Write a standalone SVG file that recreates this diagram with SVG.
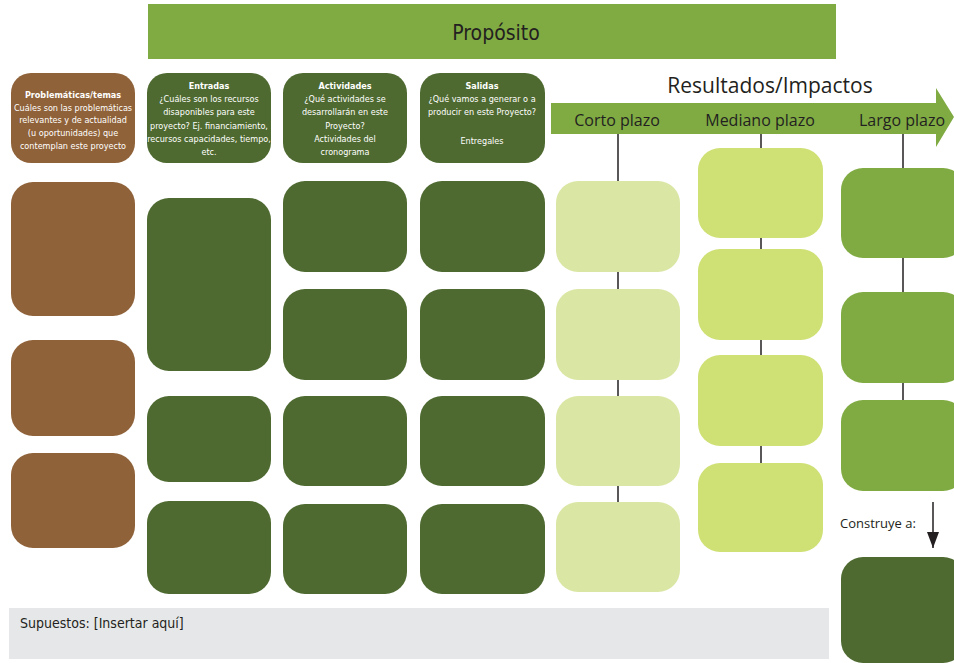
<svg xmlns="http://www.w3.org/2000/svg" width="954" height="663" viewBox="0 0 954 663">
<defs>
<style>
.brown{fill:#8f6239}
.dark{fill:#4e6a30}
.light{fill:#dae6a3}
.mid{fill:#cfe075}
.green{fill:#80ab43}
.hdr{font-family:"Liberation Sans Narrow","DejaVu Sans Condensed","Liberation Sans",sans-serif;font-size:9px;fill:#ffffff;text-anchor:middle}
.hdr .b{font-weight:bold}
.big{font-family:"Open Sans","Liberation Sans",sans-serif;fill:#231f20;text-anchor:middle}
.conn{stroke:#231f20;stroke-width:1.5;fill:none}
</style>
<marker id="ah" viewBox="0 0 16 12" refX="16" refY="6" markerWidth="16" markerHeight="12" markerUnits="userSpaceOnUse" orient="auto">
<path d="M0,0 L16,6 L0,12 Z" fill="#231f20"/>
</marker>
</defs>
<rect width="954" height="663" fill="#ffffff"/>

<g id="proposito">
<rect x="148" y="4" width="688" height="55" class="green"/>
<text x="496" y="40" class="big" style="font-family:'Liberation Sans Narrow','DejaVu Sans Condensed',sans-serif;font-size:21px">Propósito</text>
</g>

<g id="resultados-arrow">
<polygon points="551,103 936,103 936,88 954,117 936,147 936,134 551,134" class="green"/>
<text x="770" y="93" class="big" style="font-size:21px">Resultados/Impactos</text>
<text x="617" y="126" class="big" style="font-size:16px">Corto plazo</text>
<text x="760" y="126" class="big" style="font-size:16px">Mediano plazo</text>
<text x="902" y="126" class="big" style="font-size:16px">Largo plazo</text>
</g>

<g id="connectors">
<line x1="618" y1="134" x2="618" y2="590" class="conn"/>
<line x1="761" y1="134" x2="761" y2="550" class="conn"/>
<line x1="903" y1="134" x2="903" y2="490" class="conn"/>
<line x1="933" y1="502" x2="933" y2="548" class="conn" marker-end="url(#ah)"/>
</g>

<g id="hdr-problematicas">
<rect x="11" y="73" width="124" height="90" rx="20" class="brown"/>
<text class="hdr"><tspan x="73" y="98" class="b">Problemáticas/temas</tspan><tspan x="73" y="110.5">Cuáles son las problemáticas</tspan><tspan x="73" y="123">relevantes y de actualidad</tspan><tspan x="73" y="136">(u oportunidades) que</tspan><tspan x="73" y="148.5">contemplan este proyecto</tspan></text>
</g>
<g id="hdr-entradas">
<rect x="147" y="73" width="124" height="90" rx="20" class="dark"/>
<text class="hdr"><tspan x="209" y="88.5" class="b">Entradas</tspan><tspan x="209" y="102">¿Cuáles son los recursos</tspan><tspan x="209" y="115">disaponibles para este</tspan><tspan x="209" y="128.5">proyecto? Ej. financiamiento,</tspan><tspan x="209" y="142">recursos capacidades, tiempo,</tspan><tspan x="209" y="155">etc.</tspan></text>
</g>
<g id="hdr-actividades">
<rect x="283" y="73" width="124" height="90" rx="20" class="dark"/>
<text class="hdr"><tspan x="345" y="88.5" class="b">Actividades</tspan><tspan x="345" y="102">¿Qué actividades se</tspan><tspan x="345" y="115">desarrollarán en este</tspan><tspan x="345" y="128.5">Proyecto?</tspan><tspan x="345" y="142">Actividades del</tspan><tspan x="345" y="155">cronograma</tspan></text>
</g>
<g id="hdr-salidas">
<rect x="420" y="73" width="125" height="90" rx="20" class="dark"/>
<text class="hdr"><tspan x="482" y="88.5" class="b">Salidas</tspan><tspan x="482" y="102">¿Qué vamos a generar o a</tspan><tspan x="482" y="115">producir en este Proyecto?</tspan><tspan x="482" y="143.5">Entregales</tspan></text>
</g>

<g id="prob-1"><rect x="11" y="182" width="124" height="134" rx="22" class="brown"/></g>
<g id="prob-2"><rect x="11" y="340" width="124" height="96" rx="22" class="brown"/></g>
<g id="prob-3"><rect x="11" y="453" width="124" height="95" rx="22" class="brown"/></g>

<g id="ent-1"><rect x="147" y="198" width="124" height="173" rx="22" class="dark"/></g>
<g id="ent-2"><rect x="147" y="396" width="124" height="86" rx="22" class="dark"/></g>
<g id="ent-3"><rect x="147" y="501" width="124" height="93" rx="22" class="dark"/></g>

<g id="act-1"><rect x="283" y="181" width="124" height="91" rx="22" class="dark"/></g>
<g id="act-2"><rect x="283" y="289" width="124" height="91" rx="22" class="dark"/></g>
<g id="act-3"><rect x="283" y="396" width="124" height="90" rx="22" class="dark"/></g>
<g id="act-4"><rect x="283" y="504" width="124" height="90" rx="22" class="dark"/></g>

<g id="sal-1"><rect x="420" y="181" width="125" height="91" rx="22" class="dark"/></g>
<g id="sal-2"><rect x="420" y="289" width="125" height="91" rx="22" class="dark"/></g>
<g id="sal-3"><rect x="420" y="396" width="125" height="90" rx="22" class="dark"/></g>
<g id="sal-4"><rect x="420" y="504" width="125" height="90" rx="22" class="dark"/></g>

<g id="corto-1"><rect x="556" y="181" width="124" height="91" rx="22" class="light"/></g>
<g id="corto-2"><rect x="556" y="289" width="124" height="91" rx="22" class="light"/></g>
<g id="corto-3"><rect x="556" y="396" width="124" height="90" rx="22" class="light"/></g>
<g id="corto-4"><rect x="556" y="502" width="124" height="90" rx="22" class="light"/></g>

<g id="mediano-1"><rect x="698" y="148" width="125" height="90" rx="22" class="mid"/></g>
<g id="mediano-2"><rect x="698" y="249" width="125" height="91" rx="22" class="mid"/></g>
<g id="mediano-3"><rect x="698" y="355" width="125" height="91" rx="22" class="mid"/></g>
<g id="mediano-4"><rect x="698" y="463" width="125" height="89" rx="22" class="mid"/></g>

<g id="largo-1"><rect x="841" y="168" width="124" height="90" rx="22" class="green"/></g>
<g id="largo-2"><rect x="841" y="292" width="124" height="91" rx="22" class="green"/></g>
<g id="largo-3"><rect x="841" y="400" width="124" height="91" rx="22" class="green"/></g>

<g id="construye">
<text x="840" y="528" style="font-family:'Open Sans','Liberation Sans',sans-serif;font-size:13px;fill:#231f20">Construye a:</text>
</g>
<g id="largo-final"><rect x="841" y="557" width="124" height="106" rx="22" class="dark"/></g>

<g id="supuestos">
<rect x="9" y="608" width="820" height="51" fill="#e6e7e8"/>
<text x="20" y="628" style="font-family:'Liberation Sans Narrow','DejaVu Sans Condensed',sans-serif;font-size:14px;fill:#231f20">Supuestos: [Insertar aquí]</text>
</g>
</svg>
